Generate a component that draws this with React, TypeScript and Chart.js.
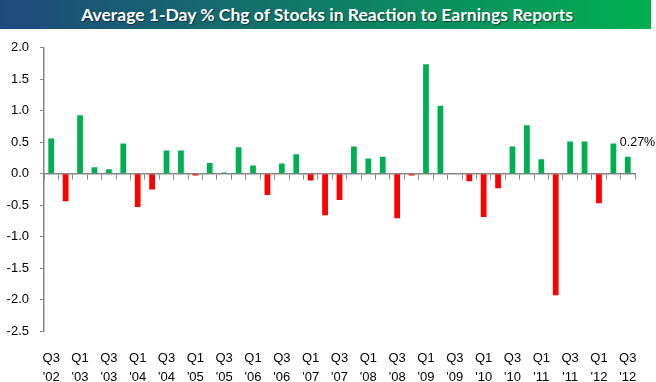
import React, { useEffect, useRef } from "react";
import { Chart, registerables } from "chart.js";

Chart.register(...registerables);

const TITLE = "Average 1-Day % Chg of Stocks in Reaction to Earnings Reports";

const quarters: string[] = [
  "Q3 '02", "Q4 '02",
  "Q1 '03", "Q2 '03", "Q3 '03", "Q4 '03",
  "Q1 '04", "Q2 '04", "Q3 '04", "Q4 '04",
  "Q1 '05", "Q2 '05", "Q3 '05", "Q4 '05",
  "Q1 '06", "Q2 '06", "Q3 '06", "Q4 '06",
  "Q1 '07", "Q2 '07", "Q3 '07", "Q4 '07",
  "Q1 '08", "Q2 '08", "Q3 '08", "Q4 '08",
  "Q1 '09", "Q2 '09", "Q3 '09", "Q4 '09",
  "Q1 '10", "Q2 '10", "Q3 '10", "Q4 '10",
  "Q1 '11", "Q2 '11", "Q3 '11", "Q4 '11",
  "Q1 '12", "Q2 '12", "Q3 '12",
];

const avgChange: number[] = [
  0.56, -0.44,
  0.93, 0.10, 0.07, 0.48,
  -0.53, -0.25, 0.37, 0.37,
  -0.03, 0.17, 0.02, 0.42,
  0.13, -0.34, 0.16, 0.31,
  -0.11, -0.66, -0.42, 0.43,
  0.24, 0.27, -0.71, -0.03,
  1.74, 1.08, 0.0, -0.12,
  -0.69, -0.23, 0.43, 0.77,
  0.23, -1.93, 0.51, 0.51,
  -0.47, 0.48, 0.27,
];

const yMin = -2.5;
const yMax = 2.0;
const yStep = 0.5;
const lastLabel = "0.27%";

const POS = "#00B050";
const NEG = "#FF0000";
const AXIS = "#868686";

export default function App() {
  const ref = useRef<HTMLCanvasElement | null>(null);

  useEffect(() => {
    if (!ref.current) return;
    const lastLabelPlugin = {
      id: "lastLabel",
      afterDatasetsDraw(chart: any) {
        const meta = chart.getDatasetMeta(0);
        const el = meta.data[meta.data.length - 1];
        if (!el) return;
        const ctx = chart.ctx;
        ctx.save();
        ctx.font = "12.5px 'Liberation Sans'";
        ctx.fillStyle = "#000";
        ctx.textAlign = "left";
        ctx.textBaseline = "middle";
        ctx.fillText(lastLabel, el.x - 8, el.y - 14);
        ctx.restore();
      },
    };
    const chart = new Chart(ref.current, {
      type: "bar",
      data: {
        labels: quarters,
        datasets: [
          {
            data: avgChange,
            backgroundColor: avgChange.map((v) => (v >= 0 ? POS : NEG)),
            barPercentage: 0.4,
            categoryPercentage: 1,
            xAxisID: "x",
          },
        ],
      },
      options: {
        animation: false,
        responsive: false,
        maintainAspectRatio: false,
        layout: { padding: { top: 18, right: 21, left: 0, bottom: 0 } },
        plugins: { legend: { display: false }, tooltip: { enabled: false } },
        scales: {
          x: {
            type: "category",
            position: { y: 0 } as any,
            offset: true,
            ticks: { display: false },
            grid: {
              display: true,
              drawOnChartArea: false,
              drawTicks: true,
              tickLength: 5,
              color: AXIS,
              offset: true,
            },
            border: { display: true, color: AXIS, width: 1.5 },
          },
          x2: {
            type: "category",
            position: "bottom",
            offset: true,
            grid: { display: false },
            border: { display: false },
            ticks: {
              autoSkip: false,
              maxRotation: 0,
              minRotation: 0,
              padding: 10,
              color: "#000",
              font: { family: "'Liberation Sans'", size: 13, lineHeight: 1.45 },
              callback: (_v: any, i: number) =>
                i % 2 === 0 ? quarters[i].split(" ") : "",
            },
            afterFit: (s: any) => {
              s.height = 51;
            },
          },
          y: {
            min: yMin,
            max: yMax,
            ticks: {
              stepSize: yStep,
              padding: 11,
              color: "#000",
              font: { family: "'Liberation Sans'", size: 13 },
              callback: (v: any) => Number(v).toFixed(1),
            },
            grid: {
              display: true,
              drawOnChartArea: false,
              tickLength: 4,
              color: AXIS,
            },
            border: { display: true, color: AXIS, width: 1.5 },
            afterFit: (s: any) => {
              s.width = 44;
            },
          },
        },
      },
      plugins: [lastLabelPlugin],
    });
    return () => chart.destroy();
  }, []);

  return (
    <div
      style={{
        position: "fixed",
        left: 0,
        top: 0,
        width: 656,
        height: 382,
        background: "#fff",
        overflow: "hidden",
      }}
    >
      <div
        style={{
          height: 29,
          width: 651,
          background: "linear-gradient(to right, #1f497d, #00b050)",
          color: "#fff",
          fontFamily: "Lato, 'Open Sans', sans-serif",
          fontWeight: 700,
          fontSize: 17.5,
          lineHeight: "29px",
          paddingLeft: 3,
          textAlign: "center",
          boxSizing: "border-box",
          whiteSpace: "nowrap",
          textShadow: "1px 1px 1px rgba(0,0,0,0.5)",
        }}
      >
        {TITLE}
      </div>
      <canvas ref={ref} width={656} height={353} style={{ display: "block" }} />
    </div>
  );
}
